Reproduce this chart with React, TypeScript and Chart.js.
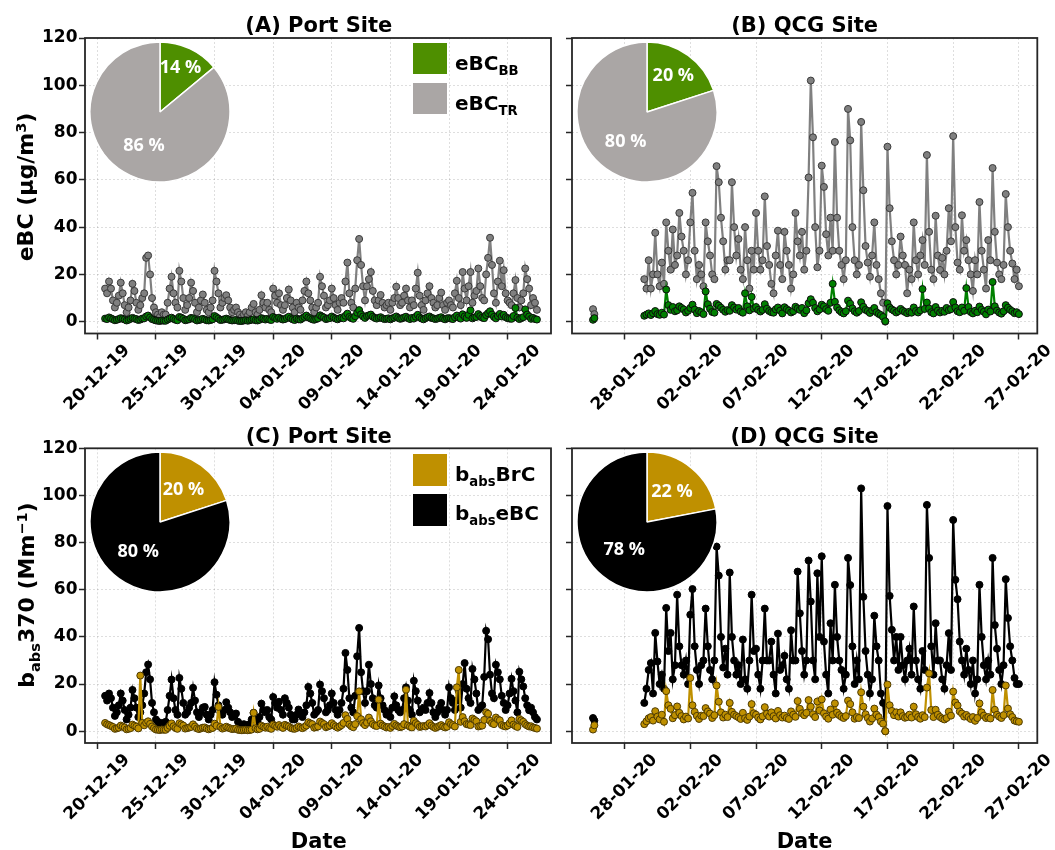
import React, { useEffect, useRef } from "react";
import { Chart, registerables } from "chart.js";
Chart.register(...registerables);

const FONT = "'DejaVu Sans', 'Liberation Sans', Arial, sans-serif";

// ---- time axis (days) ----
const SAMPLE_STEP = 1 / 6; // 4-hourly samples
// Port site: day 0 = 20-12-2019
const PORT_START_DAY = 2 / 3;
const PORT_X_MIN = -1.05;
const PORT_X_MAX = 38.7;
const PORT_TICK_DAYS = [0, 5, 10, 15, 20, 25, 30, 35];
const PORT_TICK_LABELS = ["20-12-19", "25-12-19", "30-12-19", "04-01-20", "09-01-20", "14-01-20", "19-01-20", "24-01-20"];
// QCG site: day 0 = 28-01-2020
const QCG_START_DAY = 1.5;
const QCG_ISO_DAYS = [-2.4, -2.3];
const QCG_X_MIN = -4.0;
const QCG_X_MAX = 31.4;
const QCG_TICK_DAYS = [0, 5, 10, 15, 20, 25, 30];
const QCG_TICK_LABELS = ["28-01-20", "02-02-20", "07-02-20", "12-02-20", "17-02-20", "22-02-20", "27-02-20"];

const Y_MIN = -5;
const Y_MAX = 120;
const Y_TICKS = [0, 20, 40, 60, 80, 100, 120];

// ---- (A) Port site eBC (µg/m3) ----
const portEBC_TR = [
  14, 12,
  17, 14, 9, 6, 8, 11,
  16.5, 12, 7, 4, 6, 9,
  16, 13, 8, 5, 7, 10,
  12, 27, 28, 20, 10, 6,
  4, 3, 2, 4, 3, 3,
  8, 14, 19, 12, 8, 6,
  21.5, 17, 10, 5, 7, 10,
  16.5, 13, 8, 4, 6, 9,
  11.5, 8, 5, 4, 6, 9,
  21.5, 17, 12, 6, 8, 10,
  11.2, 9, 6, 4, 5, 6,
  4, 3, 2, 3, 4, 2.5,
  4, 6, 7.5, 4, 3, 5,
  11.2, 8, 6, 8, 5, 4,
  14, 11, 8, 12, 7, 5,
  7, 10, 13.6, 9, 6, 4,
  8, 6, 5, 9, 13, 17,
  12, 9, 6, 4, 6, 8,
  19, 15, 11, 6, 7, 9,
  14, 10, 7, 5, 8, 10,
  8, 17, 25, 12, 8, 6,
  14, 26, 35, 24, 15, 9,
  15, 18, 21, 13, 9, 7,
  9, 11.3, 8, 6, 7, 8,
  5, 8, 10, 14.8, 10, 7,
  8, 11, 14, 9, 6, 9,
  7, 14, 20.7, 11, 7, 5,
  9, 12, 15, 10, 8, 6,
  7, 10, 12.3, 7, 5, 8,
  9, 7, 6, 12, 17.3, 10,
  7, 21, 14, 9, 15, 21,
  8, 11, 13, 22.5, 15, 10,
  9, 20, 27, 35.5, 24, 12,
  8, 17, 25.8, 15, 21.8, 12,
  9, 8, 7, 12, 17.6, 10,
  6, 9, 12, 22.5, 18, 14,
  7, 10, 8, 5,
];
const portEBC_BB = [
  1.3, 1.1,
  1.8, 1.4, 1.0, 0.6, 0.8, 1.1,
  1.5, 1.2, 0.9, 0.5, 0.8, 1.2,
  1.6, 1.3, 1.1, 0.7, 0.9, 1.3,
  1.4, 2.2, 2.6, 1.8, 1.1, 0.8,
  0.5, 0.4, 0.3, 0.5, 0.4, 0.4,
  0.9, 1.3, 1.7, 1.2, 0.8, 0.6,
  2.0, 1.7, 1.2, 0.6, 0.8, 1.0,
  1.6, 1.4, 1.0, 0.5, 0.7, 0.9,
  1.2, 0.9, 0.6, 0.5, 0.7, 1.0,
  2.4, 1.9, 1.3, 0.7, 0.8, 1.0,
  1.3, 1.0, 0.7, 0.5, 0.6, 0.7,
  0.4, 0.3, 0.3, 0.5, 0.6, 0.4,
  0.6, 0.8, 1.0, 0.6, 0.5, 0.8,
  1.5, 1.2, 0.9, 1.2, 0.9, 0.7,
  2.0, 1.6, 1.2, 1.7, 1.2, 0.9,
  1.1, 1.6, 2.1, 1.4, 1.0, 0.7,
  1.3, 1.0, 0.9, 1.5, 2.0, 2.6,
  1.8, 1.4, 1.0, 0.8, 1.1, 1.4,
  2.7, 2.2, 1.8, 1.1, 1.3, 1.5,
  2.2, 1.7, 1.3, 1.0, 1.4, 1.7,
  1.4, 2.5, 3.4, 2.0, 1.5, 1.2,
  2.3, 3.8, 4.9, 3.1, 2.2, 1.6,
  2.4, 2.7, 3.0, 2.1, 1.6, 1.3,
  1.6, 1.9, 1.4, 1.1, 1.2, 1.4,
  1.0, 1.4, 1.7, 2.2, 1.6, 1.2,
  1.4, 1.8, 2.1, 1.5, 1.1, 1.6,
  1.3, 2.1, 2.9, 1.8, 1.3, 1.0,
  1.5, 1.9, 2.2, 1.6, 1.4, 1.1,
  1.3, 1.6, 1.9, 1.3, 1.0, 1.4,
  1.5, 1.3, 1.1, 1.9, 2.6, 1.7,
  1.3, 3.1, 2.2, 1.6, 2.9, 4.8,
  1.4, 1.8, 2.0, 3.2, 2.4, 1.7,
  1.5, 2.8, 3.6, 4.4, 3.0, 2.0,
  1.4, 2.4, 3.3, 2.2, 2.9, 1.9,
  1.5, 1.3, 1.2, 2.4, 5.8, 1.7,
  1.1, 1.5, 1.9, 5.2, 3.0, 2.2,
  1.2, 1.6, 1.1, 0.9,
];

// ---- (B) QCG site eBC (µg/m3) ----
const qcgEBC_TR_iso = [5.3, 3.2];
const qcgEBC_BB_iso = [0.8, 1.5];
const qcgEBC_TR = [
  18, 14, 26,
  14, 20, 37.6, 20, 15, 25,
  16, 42, 30, 22, 39, 24,
  28, 46, 36, 30, 20, 26,
  42, 54.5, 30, 18, 24, 20,
  15, 42, 34, 28, 20, 18,
  65.8, 59, 44, 34, 22, 26,
  26, 59, 40, 28, 35, 22,
  18, 40, 26, 14, 30, 22,
  46, 30, 22, 26, 53, 32,
  24, 16, 12, 28, 38.5, 24,
  18, 38, 30, 24, 14, 20,
  46, 34, 28, 38, 22, 30,
  61, 102, 78, 40, 23, 30,
  66, 57, 37, 28, 44, 30,
  76, 44, 30, 24, 18, 26,
  90, 76.7, 40, 26, 20, 24,
  84.5, 55.6, 32, 25, 19, 28,
  42, 24, 18, 12, 8, 0,
  74, 48, 34, 26, 20, 24,
  36, 28, 24, 12, 22, 18,
  42, 26, 20, 28, 34.5, 24,
  70.5, 38, 22, 18, 44.8, 28,
  21.9, 27, 20, 30, 48, 34,
  78.5, 40, 25, 22, 45, 30,
  34.5, 26, 20, 13, 26, 20,
  50.6, 30, 22, 14, 34.5, 26,
  65, 38, 25, 20, 18, 24,
  54, 40, 30, 24.6, 18, 22,
  15,
];
const qcgEBC_BB = [
  2.5, 3.0, 3.5,
  2.8, 3.6, 4.5, 3.2, 2.9, 3.8,
  3.0, 13.6, 7.0, 5.0, 6.2, 4.4,
  4.8, 6.5, 5.8, 5.2, 3.9, 4.6,
  5.8, 7.2, 5.1, 3.6, 4.5, 4.0,
  3.2, 12.8, 7.4, 5.5, 4.1, 3.8,
  7.5, 6.8, 5.9, 5.0, 4.2, 4.9,
  4.6, 7.0, 6.0, 5.1, 5.8, 4.3,
  3.8, 12.0, 6.5, 4.8, 10.5, 5.6,
  6.2, 5.0, 4.3, 5.0, 7.4, 5.5,
  4.5, 4.0, 3.8, 5.2, 6.0, 4.7,
  3.5, 6.1, 5.3, 4.7, 3.9, 4.4,
  6.3, 5.6, 5.0, 5.8, 3.6, 4.8,
  7.8, 9.5, 8.0, 5.8, 4.4, 5.2,
  7.2, 6.5, 5.3, 4.6, 8.0, 16.0,
  8.4, 6.0, 4.8, 4.0, 3.5, 4.4,
  8.9, 7.6, 5.6, 4.4, 3.8, 4.5,
  8.2, 6.3, 5.0, 4.5, 3.7, 4.8,
  5.8, 4.0, 3.3, 2.8, 2.0, 0.2,
  7.8, 6.0, 5.2, 4.6, 3.9, 4.5,
  5.4, 4.6, 4.1, 3.6, 4.2, 3.8,
  6.0, 4.5, 3.9, 4.8, 13.8, 5.4,
  8.1, 5.6, 4.0, 3.5, 6.2, 4.7,
  3.9, 4.6, 4.2, 5.8, 4.9, 5.3,
  8.3, 6.0, 4.4, 4.0, 6.0, 4.6,
  14.2, 6.2, 4.1, 3.5, 4.6, 4.0,
  6.4, 5.0, 4.2, 3.1, 5.1, 4.3,
  16.8, 6.5, 4.7, 3.9, 3.4, 4.4,
  7.0, 5.9, 5.0, 4.4, 3.6, 4.0,
  3.2,
];

// ---- (C) Port site babs370 (Mm-1) ----
const portBabsEBC = [
  15, 13,
  16, 14, 10, 6.5, 8, 11,
  16, 13, 9, 5, 7, 10,
  17.5, 14, 10, 6, 8, 11,
  16, 25, 28.3, 22, 12, 8,
  5, 4, 3, 3.5, 3, 4,
  9, 15, 21.9, 14, 9, 7,
  22.6, 18, 12, 7, 8, 10,
  12, 18.4, 13, 8, 6, 8,
  10, 10.3, 7, 5, 7, 9,
  20.8, 15.5, 11, 8, 7, 9,
  12.3, 10, 8, 6, 6.5, 7.5,
  4, 3, 2.5, 3, 2.5, 2.5,
  3, 5, 7.8, 5, 4, 6,
  11.7, 9, 8, 9, 6, 5,
  14.5, 12, 10, 12.5, 9, 7,
  14, 12, 10, 7, 5, 5,
  7, 9.2, 8, 6, 8, 11,
  18.8, 16, 12, 7, 8, 9,
  19.8, 17, 14, 8, 9, 11,
  16, 12, 9, 7, 9, 12,
  18, 33.2, 26, 14, 10, 8,
  15, 31.8, 43.8, 25, 17, 12,
  17, 28.2, 20, 14, 11, 10,
  19.4, 14, 11, 9, 7, 8,
  6, 10, 14.8, 11, 9, 8,
  9, 14, 18.6, 13, 9, 7,
  21.4, 17, 13, 8, 9, 10,
  9, 12, 16.2, 12, 8, 6,
  8, 10, 12, 9, 7, 9,
  18.6, 14, 12, 9, 13, 17,
  10, 20, 28.9, 18, 14, 12,
  26.4, 22, 16, 9, 10, 11,
  23, 42.6, 39, 24, 16, 14,
  28.2, 25, 22, 15, 12, 9,
  11, 16, 22.2, 17, 13, 8,
  25.2, 22, 19, 14, 11, 8.9,
  10, 8, 6, 5,
];
const portBabsBrC = [
  3.5, 2.9,
  2.6, 2.2, 1.8, 1.0, 1.2, 1.5,
  2.4, 2.0, 1.6, 0.8, 1.0, 1.3,
  2.8, 2.3, 1.9, 1.2, 23.6, 3.5,
  2.5, 3.6, 4.2, 3.1, 2.0, 1.3,
  0.7, 0.6, 0.5, 0.7, 0.6, 0.6,
  1.4, 2.3, 3.3, 2.1, 1.4, 1.0,
  3.4, 2.9, 2.4, 1.1, 1.3, 1.6,
  1.8, 2.9, 2.0, 1.2, 0.9, 1.2,
  1.5, 1.6, 1.1, 0.8, 1.1, 1.4,
  3.2, 2.3, 10.3, 1.8, 1.1, 1.4,
  1.9, 1.5, 1.2, 0.9, 1.0, 1.1,
  0.6, 0.5, 0.4, 0.5, 0.6, 0.4,
  0.5, 0.7, 7.8, 1.2, 0.8, 1.0,
  2.3, 1.9, 1.5, 1.9, 1.3, 1.0,
  2.8, 2.3, 1.9, 2.6, 1.8, 1.4,
  2.7, 2.3, 2.0, 1.4, 1.1, 1.0,
  1.4, 2.0, 1.6, 1.3, 1.8, 2.4,
  3.8, 3.3, 3.0, 1.5, 1.7, 2.0,
  4.1, 3.5, 3.0, 1.7, 2.0, 2.4,
  3.4, 2.6, 2.0, 1.5, 2.0, 2.6,
  3.5, 6.8, 5.2, 2.9, 2.1, 1.7,
  3.0, 6.4, 16.9, 5.1, 3.4, 2.6,
  3.6, 5.8, 4.2, 3.0, 2.4, 2.2,
  13.4, 3.2, 2.4, 2.0, 1.6, 1.8,
  1.4, 2.2, 3.1, 2.4, 2.0, 1.7,
  2.0, 3.0, 17.6, 2.4, 1.9, 1.6,
  4.4, 3.4, 2.7, 1.8, 2.0, 2.2,
  2.0, 2.6, 3.4, 2.4, 1.8, 1.4,
  1.8, 2.2, 2.6, 2.0, 1.6, 1.9,
  3.8, 3.0, 2.6, 2.0, 18.6, 26.0,
  4.0, 6.0, 4.2, 3.0, 2.8, 2.6,
  5.4, 4.8, 4.2, 2.0, 2.2, 2.4,
  4.8, 8.0, 7.4, 4.4, 3.4, 3.0,
  5.8, 5.0, 4.6, 2.6, 2.2, 2.0,
  2.4, 3.4, 4.6, 2.8, 2.2, 1.8,
  5.2, 4.6, 4.0, 3.0, 2.4, 2.0,
  2.1, 1.6, 1.4, 1.1,
];

// ---- (D) QCG site babs370 (Mm-1) ----
const qcgBabsEBC_iso = [5.6, 4.5];
const qcgBabsBrC_iso = [0.7, 2.5];
const qcgBabsEBC = [
  12, 18, 26,
  28.9, 16, 41.7, 29.6, 20, 24,
  18, 52.3, 34, 41.7, 22, 28,
  57.9, 36, 28, 24, 30, 20,
  49.4, 60.3, 36, 26, 20, 28,
  30, 52, 36, 26, 22, 30,
  78.3, 66, 40, 27, 35, 24,
  67.3, 40, 30, 24, 28, 20,
  38.9, 22, 18, 30, 57.9, 34,
  35, 24, 18, 30, 52, 30,
  30, 38, 24, 16, 41.4, 26,
  28, 32, 22, 18, 42.8, 30,
  30, 67.7, 50, 34, 24, 30,
  72.4, 55, 30, 22, 67, 40,
  74.2, 38, 24, 16, 45.8, 30,
  62.1, 40, 30, 26, 18, 24,
  73.5, 62, 36, 20, 30, 22,
  103, 57, 34, 24, 16, 22,
  49, 36, 30, 16, 12, 0,
  95.5, 57.4, 43, 30, 40, 26,
  40, 28, 22, 30, 35, 24,
  52.9, 30, 22, 18, 34, 26,
  96, 73.5, 36, 24, 45.8, 30,
  30, 22, 18, 28, 41.6, 26,
  89.6, 64.2, 56, 38, 30, 24,
  35, 26, 20, 30, 16, 22,
  62.1, 40, 28, 22, 30, 24,
  73.5, 45, 35, 26, 20, 28,
  64.5, 48, 36, 30, 22.6, 20,
  20,
];
const qcgBabsBrC = [
  3.0, 4.2, 5.5,
  6.0, 4.5, 8.5, 6.2, 5.0, 7.0,
  4.0, 17.0, 11.0, 9.5, 5.5, 6.8,
  10.5, 7.8, 6.4, 5.0, 6.2, 5.4,
  22.6, 11.0, 8.2, 6.5, 5.2, 6.6,
  6.4, 9.8, 8.4, 7.5, 5.6, 6.8,
  19.4, 12.5, 8.0, 5.8, 7.0, 6.0,
  12.0, 8.2, 7.0, 6.4, 5.9, 5.2,
  7.8, 5.5, 4.8, 6.2, 11.5, 7.6,
  7.0, 5.8, 5.0, 6.3, 10.2, 7.4,
  6.2, 8.0, 6.4, 5.4, 8.6, 6.8,
  5.8, 6.6, 5.6, 5.2, 8.4, 7.0,
  6.1, 12.8, 9.5, 7.6, 6.8, 7.8,
  13.2, 10.4, 7.2, 6.0, 12.6, 8.8,
  13.5, 7.6, 6.2, 5.3, 9.2, 7.0,
  11.8, 7.9, 6.8, 6.1, 5.6, 6.4,
  13.0, 11.5, 8.0, 5.3, 6.0, 5.6,
  16.5, 10.4, 7.2, 5.6, 4.1, 5.4,
  9.6, 7.0, 6.0, 4.1, 3.2, 0.0,
  19.8, 11.0, 8.6, 6.8, 8.0, 6.2,
  8.0, 6.4, 5.7, 6.0, 7.0, 5.8,
  10.4, 7.2, 6.0, 5.3, 6.8, 6.0,
  18.5, 24.5, 9.0, 6.0, 9.1, 7.0,
  6.0, 5.4, 5.0, 5.6, 8.3, 6.6,
  16.8, 12.2, 10.9, 8.4, 7.5, 6.2,
  6.9, 6.0, 5.2, 6.0, 4.4, 5.6,
  11.8, 8.0, 6.6, 5.6, 6.0, 5.4,
  17.5, 9.1, 7.0, 6.2, 5.6, 6.8,
  19.4, 9.6, 7.2, 6.0, 4.5, 4.2,
  4.0,
];

// ---- pie shares (%) ----
const PIE_A = [14, 86];
const PIE_B = [20, 80];
const PIE_C = [20, 80];
const PIE_D = [22, 78];

// ---- colours ----
const C_GREY = "#808080";
const C_GREEN = "#008000";
const C_GOLD = "#bf9000";
const C_BLACK = "#000000";
const PIE_GREEN = "#4e8f00";
const PIE_GREY = "#aaa6a5";

function buildSeries(start: number, values: number[], isoDays?: number[], isoValues?: number[]) {
  const pts: { x: number; y: number | null }[] = [];
  if (isoDays && isoValues) {
    isoDays.forEach((d, i) => pts.push({ x: d, y: isoValues[i] }));
    pts.push({ x: (isoDays[isoDays.length - 1] + start) / 2, y: null });
  }
  values.forEach((v, i) => pts.push({ x: start + i * SAMPLE_STEP, y: v }));
  return pts;
}

function lineDataset(data: any[], color: string, edge: string, order: number) {
  return {
    data,
    borderColor: color,
    backgroundColor: color,
    borderWidth: 2.2,
    pointRadius: 3.5,
    pointBackgroundColor: color,
    pointBorderColor: edge,
    pointBorderWidth: 1,
    tension: 0,
    spanGaps: false,
    order,
  };
}

const framePlugin = {
  id: "frame",
  afterDraw(chart: any) {
    const { left, top, width, height } = chart.chartArea;
    const ctx = chart.ctx;
    ctx.save();
    ctx.strokeStyle = "#262626";
    ctx.lineWidth = 1.8;
    ctx.strokeRect(left, top, width, height);
    ctx.restore();
  },
};

function makePieLabelPlugin(fracs: number[]) {
  return {
    id: "pieLabels",
    afterDatasetsDraw(chart: any) {
      const meta = chart.getDatasetMeta(0);
      const values = chart.data.datasets[0].data as number[];
      const ctx = chart.ctx;
      ctx.save();
      ctx.fillStyle = "#ffffff";
      ctx.font = "bold 18px 'Open Sans', 'DejaVu Sans', sans-serif";
      ctx.textAlign = "center";
      ctx.textBaseline = "middle";
      meta.data.forEach((arc: any, i: number) => {
        const p = arc.getProps(["x", "y", "startAngle", "endAngle", "outerRadius"], true);
        const mid = (p.startAngle + p.endAngle) / 2;
        const r = p.outerRadius * fracs[i];
        ctx.fillText(`${values[i]} %`, p.x + Math.cos(mid) * r, p.y + Math.sin(mid) * r);
      });
      ctx.restore();
    },
  };
}

type PanelSpec = {
  left: number; top: number; width: number; height: number;
  padTop: number; padRight: number; yWidth: number; xHeight: number;
  xMin: number; xMax: number; tickDays: number[]; tickLabels: string[];
  showY: boolean; datasets: any[];
};

const PANELS: PanelSpec[] = [
  {
    left: 0, top: 20, width: 556, height: 400, padTop: 18, padRight: 3.5, yWidth: 85, xHeight: 86.5,
    xMin: PORT_X_MIN, xMax: PORT_X_MAX, tickDays: PORT_TICK_DAYS, tickLabels: PORT_TICK_LABELS, showY: true,
    datasets: [
      lineDataset(buildSeries(PORT_START_DAY, portEBC_BB), C_GREEN, "#0d0d0d", 0),
      lineDataset(buildSeries(PORT_START_DAY, portEBC_TR), C_GREY, "#3a3a3a", 1),
    ],
  },
  {
    left: 556, top: 20, width: 499, height: 400, padTop: 18, padRight: 17.7, yWidth: 16, xHeight: 86.5,
    xMin: QCG_X_MIN, xMax: QCG_X_MAX, tickDays: QCG_TICK_DAYS, tickLabels: QCG_TICK_LABELS, showY: false,
    datasets: [
      lineDataset(buildSeries(QCG_START_DAY, qcgEBC_BB, QCG_ISO_DAYS, qcgEBC_BB_iso), C_GREEN, "#0d0d0d", 0),
      lineDataset(buildSeries(QCG_START_DAY, qcgEBC_TR, QCG_ISO_DAYS, qcgEBC_TR_iso), C_GREY, "#3a3a3a", 1),
    ],
  },
  {
    left: 0, top: 430, width: 556, height: 410, padTop: 18.3, padRight: 3.5, yWidth: 85, xHeight: 97,
    xMin: PORT_X_MIN, xMax: PORT_X_MAX, tickDays: PORT_TICK_DAYS, tickLabels: PORT_TICK_LABELS, showY: true,
    datasets: [
      lineDataset(buildSeries(PORT_START_DAY, portBabsBrC), C_GOLD, "#4d3a00", 0),
      lineDataset(buildSeries(PORT_START_DAY, portBabsEBC), C_BLACK, "#000000", 1),
    ],
  },
  {
    left: 556, top: 430, width: 499, height: 410, padTop: 18.3, padRight: 17.7, yWidth: 16, xHeight: 97,
    xMin: QCG_X_MIN, xMax: QCG_X_MAX, tickDays: QCG_TICK_DAYS, tickLabels: QCG_TICK_LABELS, showY: false,
    datasets: [
      lineDataset(buildSeries(QCG_START_DAY, qcgBabsBrC, QCG_ISO_DAYS, qcgBabsBrC_iso), C_GOLD, "#4d3a00", 0),
      lineDataset(buildSeries(QCG_START_DAY, qcgBabsEBC, QCG_ISO_DAYS, qcgBabsEBC_iso), C_BLACK, "#000000", 1),
    ],
  },
];

const PIES = [
  { cx: 160, cy: 112, values: PIE_A, colors: [PIE_GREEN, PIE_GREY], fracs: [0.69, 0.54] },
  { cx: 646.7, cy: 112, values: PIE_B, colors: [PIE_GREEN, PIE_GREY], fracs: [0.64, 0.52] },
  { cx: 160, cy: 521.7, values: PIE_C, colors: [C_GOLD, C_BLACK], fracs: [0.57, 0.53] },
  { cx: 646.7, cy: 521.7, values: PIE_D, colors: [C_GOLD, C_BLACK], fracs: [0.56, 0.51] },
];
const PIE_SIZE = 144;

const tickFont = { family: FONT, size: 17, weight: "bold" as const };

function lineConfig(p: PanelSpec): any {
  return {
    type: "line",
    data: { datasets: p.datasets },
    options: {
      responsive: false,
      animation: false,
      events: [],
      layout: { padding: { top: p.padTop, right: p.padRight, left: 0, bottom: 0 } },
      plugins: { legend: { display: false }, tooltip: { enabled: false }, title: { display: false } },
      scales: {
        x: {
          type: "linear",
          min: p.xMin,
          max: p.xMax,
          afterBuildTicks: (s: any) => { s.ticks = p.tickDays.map((v) => ({ value: v })); },
          afterFit: (s: any) => { s.height = p.xHeight; },
          ticks: {
            autoSkip: false,
            minRotation: 45,
            maxRotation: 45,
            labelOffset: 30,
            padding: 1,
            color: "#000",
            font: tickFont,
            callback: (_v: any, i: number) => p.tickLabels[i] ?? "",
          },
          grid: { color: "rgba(0,0,0,0.13)", lineWidth: 1, drawTicks: true, tickLength: 6, tickColor: "#262626", tickWidth: 1.5, tickBorderDash: [] },
          border: { display: false, dash: [2, 2] },
        },
        y: {
          type: "linear",
          min: Y_MIN,
          max: Y_MAX,
          afterBuildTicks: (s: any) => { s.ticks = Y_TICKS.map((v) => ({ value: v })); },
          afterFit: (s: any) => { s.width = p.yWidth; },
          ticks: {
            padding: 1.5,
            color: "#000",
            font: tickFont,
            callback: (v: any) => (p.showY ? String(v) : ""),
          },
          grid: { color: "rgba(0,0,0,0.13)", lineWidth: 1, drawTicks: true, tickLength: 6, tickColor: "#262626", tickWidth: 1.5, tickBorderDash: [] },
          border: { display: false, dash: [2, 2] },
        },
      },
    },
    plugins: [framePlugin],
  };
}

function pieConfig(pie: typeof PIES[number]): any {
  return {
    type: "pie",
    data: {
      datasets: [{ data: pie.values, backgroundColor: pie.colors, borderColor: "#ffffff", borderWidth: 1.5 }],
    },
    options: {
      responsive: false,
      animation: false,
      events: [],
      radius: 70,
      layout: { padding: 0 },
      plugins: { legend: { display: false }, tooltip: { enabled: false } },
    },
    plugins: [makePieLabelPlugin(pie.fracs)],
  };
}

const subStyle: React.CSSProperties = { fontSize: "0.66em", position: "relative", top: "0.38em" };
const supStyle: React.CSSProperties = { fontSize: "0.66em", position: "relative", top: "-0.5em" };

function Centered(props: { x: number; y: number; size: number; rotate?: boolean; children: React.ReactNode }) {
  return (
    <div
      style={{
        position: "absolute",
        left: props.x,
        top: props.y,
        transform: `translate(-50%, -50%)${props.rotate ? " rotate(-90deg)" : ""}`,
        fontFamily: FONT,
        fontWeight: "bold",
        fontSize: props.size,
        color: "#000",
        whiteSpace: "nowrap",
        lineHeight: 1,
      }}
    >
      {props.children}
    </div>
  );
}

function LegendItem(props: { x: number; boxTop: number; boxH: number; textY: number; color: string; children: React.ReactNode }) {
  return (
    <>
      <div style={{ position: "absolute", left: props.x, top: props.boxTop, width: 34, height: props.boxH, background: props.color, boxShadow: "0 0 0 1px #fff" }} />
      <div
        style={{
          position: "absolute",
          left: props.x + 42,
          top: props.textY - 12,
          height: 24,
          lineHeight: "24px",
          fontFamily: FONT,
          fontWeight: "bold",
          fontSize: 20,
          color: "#000",
          whiteSpace: "nowrap",
        }}
      >
        {props.children}
      </div>
    </>
  );
}

export default function App() {
  const lineRefs = useRef<(HTMLCanvasElement | null)[]>([]);
  const pieRefs = useRef<(HTMLCanvasElement | null)[]>([]);

  useEffect(() => {
    const charts: Chart[] = [];
    PANELS.forEach((p, i) => {
      const c = lineRefs.current[i];
      if (c) charts.push(new Chart(c, lineConfig(p)));
    });
    PIES.forEach((pie, i) => {
      const c = pieRefs.current[i];
      if (c) charts.push(new Chart(c, pieConfig(pie)));
    });
    return () => charts.forEach((ch) => ch.destroy());
  }, []);

  return (
    <div style={{ position: "absolute", left: 0, top: 0, width: 1055, height: 850, background: "#fff", overflow: "hidden" }}>
      {PANELS.map((p, i) => (
        <canvas
          key={"l" + i}
          ref={(el) => { lineRefs.current[i] = el; }}
          width={p.width}
          height={p.height}
          style={{ position: "absolute", left: p.left, top: p.top, width: p.width, height: p.height }}
        />
      ))}
      {PIES.map((pie, i) => (
        <canvas
          key={"p" + i}
          ref={(el) => { pieRefs.current[i] = el; }}
          width={PIE_SIZE}
          height={PIE_SIZE}
          style={{ position: "absolute", left: pie.cx - PIE_SIZE / 2, top: pie.cy - PIE_SIZE / 2, width: PIE_SIZE, height: PIE_SIZE }}
        />
      ))}

      <Centered x={318.8} y={25} size={21}>(A) Port Site</Centered>
      <Centered x={804.6} y={25} size={21}>(B) QCG Site</Centered>
      <Centered x={318.8} y={436} size={21}>(C) Port Site</Centered>
      <Centered x={804.6} y={436} size={21}>(D) QCG Site</Centered>

      <Centered x={26} y={187} size={22} rotate>
        eBC (µg/m<span style={supStyle}>3</span>)
      </Centered>
      <Centered x={27} y={595} size={22} rotate>
        b<span style={subStyle}>abs</span>370 (Mm<span style={supStyle}>−1</span>)
      </Centered>

      <Centered x={318.8} y={841} size={21}>Date</Centered>
      <Centered x={804.6} y={841} size={21}>Date</Centered>

      <LegendItem x={413} boxTop={43} boxH={31} textY={62.5} color={PIE_GREEN}>
        eBC<span style={subStyle}>BB</span>
      </LegendItem>
      <LegendItem x={413} boxTop={83} boxH={31} textY={103} color={PIE_GREY}>
        eBC<span style={subStyle}>TR</span>
      </LegendItem>
      <LegendItem x={413} boxTop={454} boxH={32} textY={474} color={C_GOLD}>
        b<span style={subStyle}>abs</span>BrC
      </LegendItem>
      <LegendItem x={413} boxTop={494} boxH={32} textY={512.5} color={C_BLACK}>
        b<span style={subStyle}>abs</span>eBC
      </LegendItem>
    </div>
  );
}
